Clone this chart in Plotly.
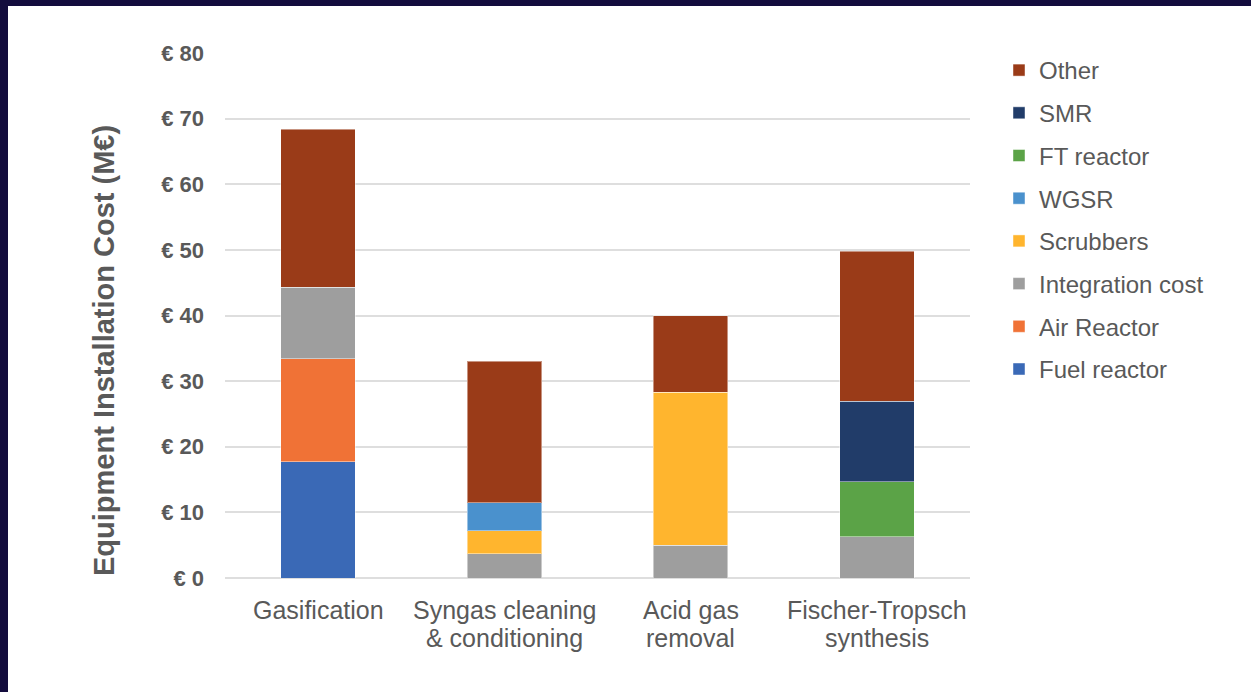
import plotly.graph_objects as go

# Process sections on the x axis and their printed (wrapped) labels
categories = [
    "Gasification",
    "Syngas cleaning & conditioning",
    "Acid gas removal",
    "Fischer-Tropsch synthesis",
]
category_label_lines = [
    ["Gasification"],
    ["Syngas cleaning", "& conditioning"],
    ["Acid gas", "removal"],
    ["Fischer-Tropsch", "synthesis"],
]

# Installed equipment cost per section (M€), stacked bottom to top
fuel_reactor = [17.7, None, None, None]
air_reactor = [15.7, None, None, None]
integration_cost = [10.9, 3.7, 5.0, 6.3]
scrubbers = [None, 3.5, 23.3, None]
wgsr = [None, 4.3, None, None]
ft_reactor = [None, None, None, 8.4]
smr = [None, None, None, 12.2]
other = [24.1, 21.5, 11.7, 22.9]

y_ticks = [0, 10, 20, 30, 40, 50, 60, 70, 80]
y_tick_labels = ["€ %d" % v for v in y_ticks]
y_title = "Equipment Installation Cost (M€)"

series = [
    ("Fuel reactor", fuel_reactor, "#3A69B6"),
    ("Air Reactor", air_reactor, "#F07236"),
    ("Integration cost", integration_cost, "#9E9E9E"),
    ("Scrubbers", scrubbers, "#FFB52E"),
    ("WGSR", wgsr, "#4A91CD"),
    ("FT reactor", ft_reactor, "#5BA347"),
    ("SMR", smr, "#213C69"),
    ("Other", other, "#9A3B18"),
]

W, H = 1251, 692
L, R, T, B = 225, 281, 53, 114
TEXT = "#595959"
FONT = "Liberation Sans, Arial, sans-serif"

pw, ph = W - L - R, H - T - B
def px_x(p):
    return (p - L) / pw
def px_y(p):
    return (H - B - p) / ph

fig = go.Figure()
n = len(series)
for i, (name, vals, color) in enumerate(series):
    fig.add_trace(go.Bar(
        x=categories, y=vals, name=name, legendgroup=name, legendrank=n - i,
        marker=dict(color=color, line=dict(color="rgba(255,255,255,0.45)", width=1)),
    ))

# Dark frame strips along the top and left edges of the page
shapes = [
    dict(type="rect", xref="paper", yref="paper", x0=px_x(0), x1=px_x(W), y0=px_y(6), y1=px_y(0),
         fillcolor="#130C3D", line=dict(width=0), layer="above"),
    dict(type="rect", xref="paper", yref="paper", x0=px_x(0), x1=px_x(8), y0=px_y(H), y1=px_y(0),
         fillcolor="#130C3D", line=dict(width=0), layer="above"),
]

# Category labels, one annotation per text line
annotations = []
line_y = [610, 638]
for cat, lines in zip(categories, category_label_lines):
    for k, txt in enumerate(lines):
        annotations.append(dict(
            x=cat, xref="x", y=px_y(line_y[k]), yref="paper",
            text=txt, showarrow=False, xanchor="center", yanchor="middle",
            font=dict(family=FONT, size=25, color=TEXT),
        ))

# Rotated y-axis title
annotations.append(dict(
    x=px_x(104), xref="paper", y=px_y(351), yref="paper",
    text=y_title, textangle=-90, showarrow=False,
    xanchor="center", yanchor="middle",
    font=dict(family=FONT, size=29, color=TEXT, weight="bold"),
))

fig.update_layout(
    width=W, height=H,
    barmode="stack", bargap=0.6,
    margin=dict(l=L, r=R, t=T, b=B, autoexpand=False),
    paper_bgcolor="white", plot_bgcolor="white",
    font=dict(family=FONT, color=TEXT),
    shapes=shapes,
    annotations=annotations,
    showlegend=True,
    legend=dict(
        xref="container", yref="container",
        x=999 / W, y=1 - 48 / H, xanchor="left", yanchor="top",
        traceorder="grouped", tracegroupgap=8.5, maxheight=680,
        font=dict(family=FONT, size=24, color=TEXT),
        bgcolor="rgba(0,0,0,0)",
    ),
    xaxis=dict(
        showticklabels=False,
        showgrid=False, showline=False, ticks="",
    ),
    yaxis=dict(
        range=[0, 80], tickvals=y_ticks, ticktext=y_tick_labels,
        tickfont=dict(family=FONT, size=22, color=TEXT, weight="bold"),
        showgrid=True, gridcolor="#DEDEDE", gridwidth=1.5,
        zeroline=True, zerolinecolor="#DEDEDE", zerolinewidth=1.5,
        showline=False, ticks="", ticklabelstandoff=20,
    ),
)

fig.write_html("out.html")
